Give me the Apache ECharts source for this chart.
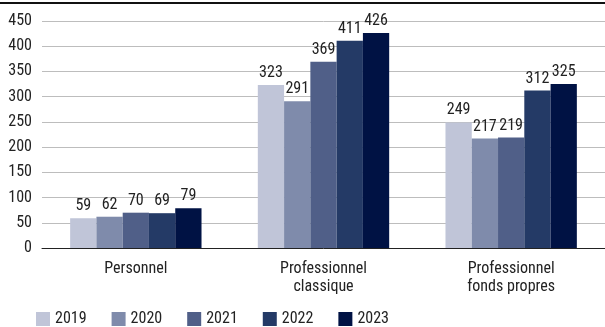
<!DOCTYPE html>
<html><head><meta charset="utf-8">
<script src="https://cdn.jsdelivr.net/npm/echarts@6/dist/echarts.min.js"></script>
<style>html,body{margin:0;padding:0;background:#fff}#c{width:605px;height:327px}</style>
</head><body><div id="c"></div>
<script>
const categories = ['Personnel', 'Professionnel\nclassique', 'Professionnel\nfonds propres'];
const years = ['2019', '2020', '2021', '2022', '2023'];
const v2019 = [59, 323, 249];
const v2020 = [62, 291, 217];
const v2021 = [70, 369, 219];
const v2022 = [69, 411, 312];
const v2023 = [79, 426, 325];
const colors = ['#c0c5d8', '#7f8bab', '#505f88', '#243a66', '#001244'];
const values = [v2019, v2020, v2021, v2022, v2023];
const FONT = '"Liberation Sans Narrow", "Roboto Condensed", "DejaVu Sans Condensed", sans-serif';
const chart = echarts.init(document.getElementById('c'));
chart.setOption({
  animation: false,
  textStyle: { fontFamily: FONT },
  grid: { left: 42, right: 0, top: 21, bottom: 79 },
  graphic: [{ type: 'rect', shape: { x: 0, y: 2, width: 605, height: 2 }, style: { fill: '#111' } }],
  legend: {
    top: 306, left: 31, padding: 5, itemWidth: 14, itemHeight: 14, itemGap: 25,
    icon: 'rect',
    textStyle: { fontFamily: FONT, fontSize: 16, color: '#222' },
    data: years
  },
  xAxis: {
    type: 'category', data: categories,
    axisLine: { lineStyle: { color: '#222', width: 1 } },
    axisTick: { show: false },
    axisLabel: { fontFamily: FONT, fontSize: 16, color: '#222', lineHeight: 18, margin: 12 }
  },
  yAxis: {
    type: 'value', min: 0, max: 450, interval: 50,
    axisLine: { show: false }, axisTick: { show: false },
    axisLabel: { fontFamily: FONT, fontSize: 16, color: '#222', margin: 10 },
    splitLine: { lineStyle: { color: '#bdbdbd', width: 1 } }
  },
  series: years.map((y, i) => ({
    name: y, type: 'bar', data: values[i],
    barGap: '0%', barCategoryGap: '30%',
    itemStyle: { color: colors[i] },
    label: { show: true, position: 'top', fontFamily: FONT, fontSize: 16, color: '#222', distance: 4 }
  }))
});
</script></body></html>
